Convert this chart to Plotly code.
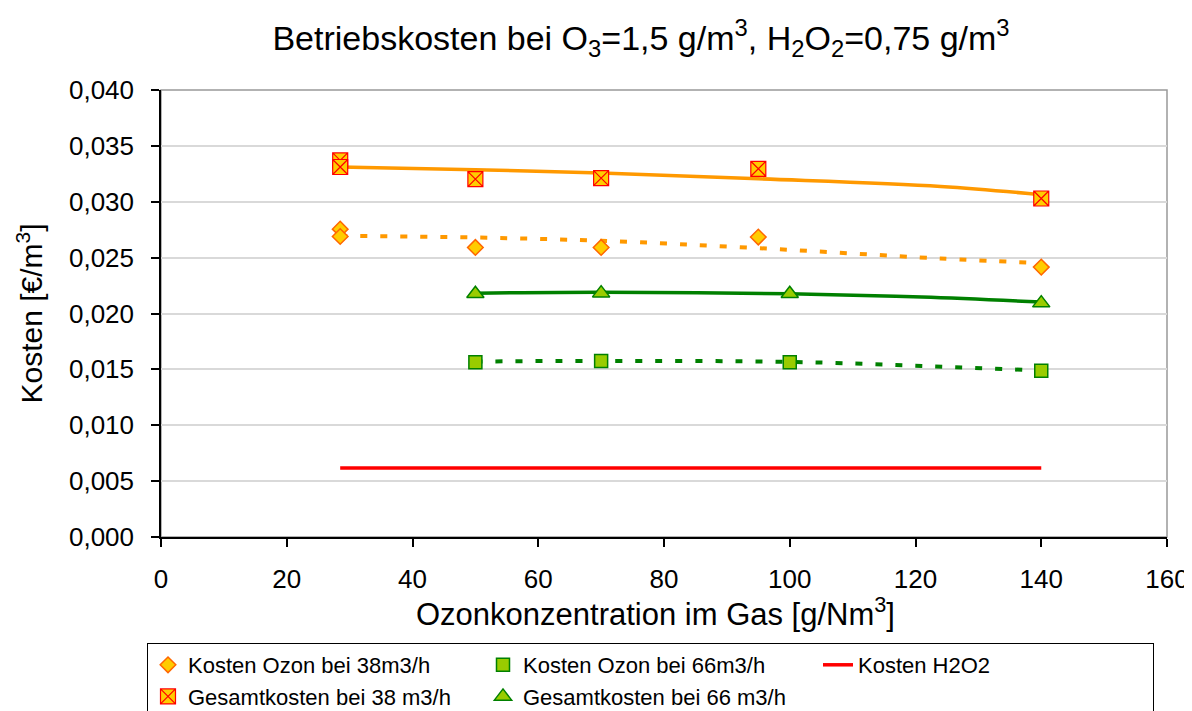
import plotly.graph_objects as go

# ── data ──────────────────────────────────────────────────────────────────────
x38 = [28.5, 28.5, 50, 70, 95, 140]
ozon38 = [0.02755, 0.02689, 0.02591, 0.02591, 0.02684, 0.02415]
gesamt38 = [0.03370, 0.03311, 0.03203, 0.03212, 0.03295, 0.03029]

x66 = [50, 70, 100, 140]
ozon66 = [0.01564, 0.01576, 0.01564, 0.01487]
gesamt66 = [0.02176, 0.02182, 0.02176, 0.02093]

x_h2o2 = [28.5, 140]
h2o2 = [0.00618, 0.00618]

# trendlines (Excel polynomial fits)
trend38_x = [28.5, 50, 70, 95, 124, 140]
trend_ozon38 = [0.02695, 0.02680, 0.02651, 0.02585, 0.02492, 0.02451]
trend_gesamt38 = [0.03311, 0.03286, 0.03257, 0.03206, 0.03137, 0.03063]
trend66_x = [50, 70, 100, 121, 140]
trend_ozon66 = [0.01570, 0.01576, 0.01567, 0.01531, 0.01489]
trend_gesamt66 = [0.02182, 0.02191, 0.02176, 0.02147, 0.02102]

FONT = "Liberation Sans, Arial, sans-serif"
ORANGE = "#FF9900"
GREEN = "#008000"
OFF = 8            # default body margin of the html page
W, H = 1192 - OFF, 711 - OFF

fig = go.Figure()

# ── trendlines (below markers, not in legend) ─────────────────────────────────
fig.add_trace(go.Scatter(x=trend38_x, y=trend_gesamt38, mode="lines", line_shape="spline",
                         line=dict(color=ORANGE, width=3.5), showlegend=False, hoverinfo="skip"))
fig.add_trace(go.Scatter(x=trend38_x, y=trend_ozon38, mode="lines", line_shape="spline",
                         line=dict(color=ORANGE, width=4, dash="7px,13px"), showlegend=False, hoverinfo="skip"))
fig.add_trace(go.Scatter(x=trend66_x, y=trend_gesamt66, mode="lines", line_shape="spline",
                         line=dict(color=GREEN, width=3.5), showlegend=False, hoverinfo="skip"))
fig.add_trace(go.Scatter(x=trend66_x, y=trend_ozon66, mode="lines", line_shape="spline",
                         line=dict(color=GREEN, width=4, dash="7px,13px"), showlegend=False, hoverinfo="skip"))

# ── series ────────────────────────────────────────────────────────────────────
fig.add_trace(go.Scatter(
    x=x38, y=ozon38, mode="markers", name="Kosten Ozon bei 38m3/h",
    marker=dict(symbol="diamond", size=12, color="#FFCC00", line=dict(color="#FF6600", width=1.5)),
))
fig.add_trace(go.Scatter(
    x=x66, y=ozon66, mode="markers", name="Kosten Ozon bei 66m3/h",
    marker=dict(symbol="square", size=13, color="#99CC00", line=dict(color=GREEN, width=1.5)),
))
fig.add_trace(go.Scatter(
    x=x_h2o2, y=h2o2, mode="lines", name="Kosten H2O2",
    line=dict(color="#FF0000", width=3.5),
))
fig.add_trace(go.Scatter(
    x=x38, y=gesamt38, mode="markers", name="Gesamtkosten bei 38 m3/h",
    marker=dict(symbol="square-x", size=15, color="#FFCC00", line=dict(color="#FF0000", width=1.2)),
))
fig.add_trace(go.Scatter(
    x=x66, y=gesamt66, mode="markers", name="Gesamtkosten bei 66 m3/h",
    marker=dict(symbol="triangle-up", size=15, color="#99CC00", line=dict(color=GREEN, width=1.5)),
))

# grey plot-area frame (Excel style)
fig.add_shape(type="rect", xref="paper", yref="paper", x0=0, x1=1, y0=0, y1=1,
              line=dict(color="#999999", width=1.5), layer="below")

# x-axis title, placed by hand (slightly left of the plot centre as in the original)
fig.add_annotation(
    text="Ozonkonzentration im Gas [g/Nm<sup>3</sup>]",
    xref="paper", yref="paper", x=(655 - 161) / 1006, y=(537 - 612) / 447,
    xanchor="center", yanchor="middle", showarrow=False,
    font=dict(family=FONT, size=31, color="black"),
)

fig.update_layout(
    width=W, height=H,
    paper_bgcolor="white", plot_bgcolor="white",
    separators=",.",
    font=dict(family=FONT, color="black", size=24),
    title=dict(
        text="Betriebskosten bei O<sub>3</sub>=1,5 g/m<sup>3</sup>, H<sub>2</sub>O<sub>2</sub>=0,75 g/m<sup>3</sup>",
        x=(641 - OFF) / W, xanchor="center", y=1 - 30 / H, yanchor="middle",
        font=dict(family=FONT, size=34, color="black"),
    ),
    xaxis=dict(
        range=[0, 160], dtick=20, tick0=0,
        showgrid=False, zeroline=False,
        showline=True, linecolor="black", linewidth=1.5,
        ticks="outside", ticklen=8, tickcolor="black", tickwidth=1.5,
        ticklabelstandoff=10,
        tickfont=dict(family=FONT, size=26),
    ),
    yaxis=dict(
        range=[0, 0.040], dtick=0.005, tickformat=".3f",
        showgrid=True, gridcolor="#D9D9D9", gridwidth=1.5,
        zeroline=False,
        showline=True, linecolor="black", linewidth=1.5,
        ticks="outside", ticklen=8, tickcolor="black", tickwidth=1.5,
        ticklabelstandoff=12,
        tickfont=dict(family=FONT, size=26),
        title=dict(text="Kosten [€/m<sup>3</sup>]", standoff=17,
                   font=dict(family=FONT, size=30)),
    ),
    legend=dict(
        orientation="h", x=(147 - OFF) / W, xref="container", xanchor="left",
        y=1 - (643 - OFF) / H, yref="container", yanchor="top",
        bordercolor="black", borderwidth=1, bgcolor="white",
        font=dict(family=FONT, size=22),
        entrywidth=290, entrywidthmode="pixels",
        tracegroupgap=0, itemsizing="trace",
    ),
    margin=dict(l=161 - OFF, r=W - (161 - OFF) - 1006, t=90 - OFF, b=H - (90 - OFF) - 447,
                autoexpand=False),
    showlegend=True,
)

fig.write_html("out.html")
